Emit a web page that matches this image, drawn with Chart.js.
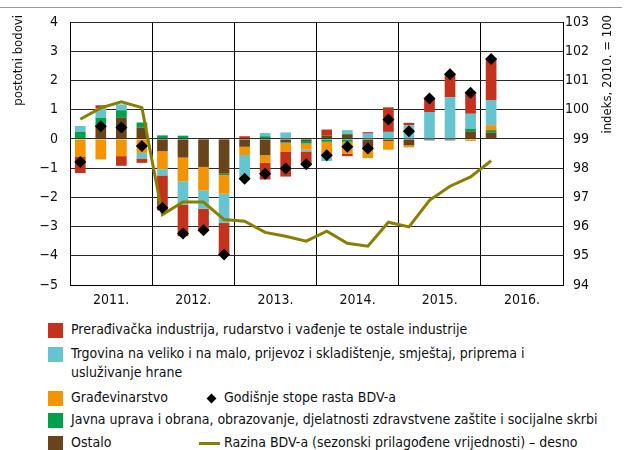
<!DOCTYPE html>
<html><head><meta charset="utf-8">
<script src="https://cdn.jsdelivr.net/npm/chart.js@4/dist/chart.umd.min.js"></script>
<style>
html,body{margin:0;padding:0;background:#fff;}
body{width:625px;height:450px;position:relative;overflow:hidden;font-family:'Liberation Sans Narrow','DejaVu Sans Condensed','Roboto Condensed',sans-serif;font-stretch:condensed;color:#111;}
#topline{position:absolute;left:0;top:7px;width:622px;border-top:1px solid #999;}
#wrap{position:absolute;left:0;top:0;width:625px;height:312px;}
.lg{position:absolute;font-size:14px;line-height:19px;white-space:nowrap;}
.sw{position:absolute;width:15px;height:15px;}
</style></head><body>
<div id="topline"></div>
<div id="wrap"><canvas id="c"></canvas></div>
<div id="legend"></div>
<script>
const quarters = ['I.11','II.11','III.11','IV.11','I.12','II.12','III.12','IV.12','I.13','II.13','III.13','IV.13','I.14','II.14','III.14','IV.14','I.15','II.15','III.15','IV.15','I.16','II.16','III.16','IV.16'];
const yearLabels = ['2011.','2012.','2013.','2014.','2015.','2016.'];
const leftTicksMin = -5, leftTicksMax = 4;
const rightTicksMin = 94, rightTicksMax = 103;

const ostalo      = [0,0.49,0.72,0.39, -0.42,-0.64,-0.96,-1.19, -0.27,-0.56,-0.12,-0.07, 0.12,0.16,-0.33,-0.07, -0.22,-0.05,-0.05,0.26, 0.22];
const javna       = [0.24,0.23,0.26,0.17, 0.12,0.11,0,-0.05, 0,0.09,-0.03,-0.09, -0.10,-0.10,0,0, 0,0,0,0.09, 0.08];
const gradjevina  = [-0.62,-0.70,-0.59,-0.48, -0.62,-0.81,-0.80,-0.64, -0.28,-0.26,-0.28,-0.21, -0.52,-0.40,-0.33,-0.30, -0.07,0,0,-0.07, 0.17];
const trgovina    = [0.20,0.32,0.20,-0.19, -0.21,-0.80,-0.63,-1.00, -0.85,0.11,0.22,-0.06, -0.14,0.14,0.18,0.24, 0.47,0.92,1.42,0.51, 0.86];
const industrija  = [-0.55,0.11,-0.33,-0.15, -1.20,-1.08,-0.74,-1.11, 0.09,-0.57,-0.86,-0.42, 0.20,-0.09,0.05,0.84, 0.08,0.46,0.81,0.74, 1.40];
const stopeBDV    = [-0.79,0.43,0.39,-0.24, -2.36,-3.24,-3.13,-3.96, -1.36,-1.19,-1.01,-0.87, -0.56,-0.27,-0.33,0.66, 0.26,1.38,2.21,1.58, 2.73];
const razinaBDV   = [99.67,100.06,100.27,100.07, 96.41,96.84,96.84,96.24, 96.18,95.80,95.67,95.50, 95.84,95.43,95.33,96.15, 95.99,96.90,97.38,97.70, 98.25];

const C = {red:'#c4321c', cyan:'#66c4d1', orange:'#f39400', green:'#00a04a', brown:'#694319', line:'#8a7f00'};
const FONT = "'Liberation Sans Narrow','DejaVu Sans Condensed','Roboto Condensed',sans-serif";

const legendItems = [
  {type:'sw', color:C.red, x:48, y:323, tx:71, ty:320, text:'Prerađivačka industrija, rudarstvo i vađenje te ostale industrije'},
  {type:'sw', color:C.cyan, x:48, y:347, tx:71, ty:344, text:'Trgovina na veliko i na malo, prijevoz i skladištenje, smještaj, priprema i<br>usluživanje hrane'},
  {type:'sw', color:C.orange, x:48, y:391, tx:71, ty:388, text:'Građevinarstvo'},
  {type:'dia', x:208, y:395, tx:224, ty:388, text:'Godišnje stope rasta BDV-a'},
  {type:'sw', color:C.green, x:48, y:413, tx:71, ty:410, text:'Javna uprava i obrana, obrazovanje, djelatnosti zdravstvene zaštite i socijalne skrbi'},
  {type:'sw', color:C.brown, x:48, y:436, tx:71, ty:433, text:'Ostalo'},
  {type:'ln', x:199, y:442, tx:224, ty:433, text:'Razina BDV-a (sezonski prilagođene vrijednosti) – desno'}
];
const lg = document.getElementById('legend');
legendItems.forEach(it=>{
  const m = document.createElement('div');
  if(it.type==='sw'){ m.className='sw'; m.style.cssText=`left:${it.x}px;top:${it.y}px;background:${it.color}`; }
  else if(it.type==='dia'){ m.style.cssText=`position:absolute;left:${it.x}px;top:${it.y}px;width:7px;height:7px;background:#000;transform:rotate(45deg)`; }
  else { m.style.cssText=`position:absolute;left:${it.x}px;top:${it.y}px;width:21px;height:3px;background:${C.line}`; }
  lg.appendChild(m);
  const t = document.createElement('div');
  t.className='lg'; t.style.left=it.tx+'px'; t.style.top=it.ty+'px'; t.innerHTML=it.text;
  lg.appendChild(t);
});

const titlesPlugin = {
  id:'titles',
  afterDraw(chart){
    const ctx = chart.ctx;
    ctx.save();
    ctx.fillStyle='#111';
    ctx.font = "13px " + FONT;
    ctx.textBaseline='middle';
    ctx.textAlign='right';
    ctx.translate(19,15); ctx.rotate(-Math.PI/2);
    ctx.fillText('postotni bodovi',0,0);
    ctx.restore();
    ctx.save();
    ctx.fillStyle='#111';
    ctx.font = "13px " + FONT;
    ctx.textBaseline='middle';
    ctx.textAlign='right';
    ctx.translate(608,15); ctx.rotate(-Math.PI/2);
    ctx.fillText('indeks, 2010. = 100',0,0);
    ctx.restore();
  }
};

const barDs = (label, data, color) => ({type:'bar', label, data, backgroundColor:color, borderWidth:0, stack:'s', yAxisID:'y', order:2, barPercentage:0.52, categoryPercentage:1});

new Chart(document.getElementById('c'), {
  data:{
    labels: quarters,
    datasets:[
      barDs('Ostalo', ostalo, C.brown),
      barDs('Javna uprava', javna, C.green),
      barDs('Građevinarstvo', gradjevina, C.orange),
      barDs('Trgovina', trgovina, C.cyan),
      barDs('Prerađivačka industrija', industrija, C.red),
      {type:'line', label:'Razina BDV-a', data:razinaBDV, yAxisID:'y2', borderColor:C.line, borderWidth:3, pointRadius:0, tension:0, order:1},
      {type:'line', label:'Godišnje stope rasta BDV-a', data:stopeBDV, yAxisID:'y', showLine:false, pointStyle:'rectRot', pointRadius:6, pointBackgroundColor:'#000', pointBorderColor:'#000', pointBorderWidth:0, order:0}
    ]
  },
  options:{
    responsive:true, maintainAspectRatio:false, animation:false,
    layout:{padding:{top:22,left:0,right:36,bottom:2}},
    plugins:{legend:{display:false}, tooltip:{enabled:false}},
    scales:{
      x:{
        type:'category', offset:true,
        grid:{offset:true, drawTicks:false, color:(c)=> (c.index%4===0?'#000':'rgba(0,0,0,0)'), lineWidth:1},
        border:{display:true,color:'#000'},
        ticks:{autoSkip:false, maxRotation:0, minRotation:0, labelOffset:10.3, padding:7, color:'#111', font:{family:FONT,size:14},
          callback:(v,i)=> (i%4===1 ? yearLabels[(i-1)/4] : '')},
        afterFit:(s)=>{s.height=25;}
      },
      y:{
        position:'left', min:leftTicksMin, max:leftTicksMax, stacked:true,
        grid:{color:'#2a2a2a', drawTicks:false, lineWidth:1},
        border:{display:true,color:'#000'},
        ticks:{stepSize:1, padding:12, color:'#111', font:{family:FONT,size:14}, callback:(v)=>String(v).replace('-','\u2212')},
        afterFit:(s)=>{s.width=70;}
      },
      y2:{
        position:'right', min:rightTicksMin, max:rightTicksMax,
        grid:{display:false, drawTicks:false},
        border:{display:true,color:'#000'},
        ticks:{stepSize:1, padding:10, crossAlign:'far', color:'#111', font:{family:FONT,size:14}},
        afterFit:(s)=>{s.width=26;}
      }
    }
  },
  plugins:[titlesPlugin]
});
</script>
</body></html>
